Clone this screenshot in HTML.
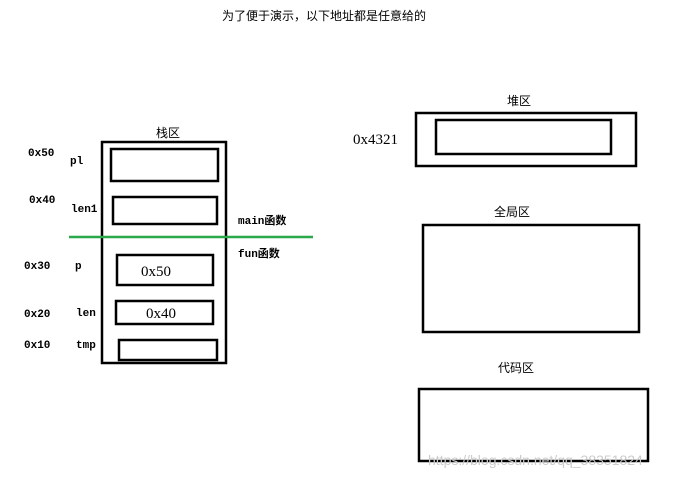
<!DOCTYPE html>
<html><head><meta charset="utf-8"><style>
html,body{margin:0;padding:0;background:#fff;width:681px;height:478px;overflow:hidden}
text{font-family:"Liberation Mono","Noto Sans CJK SC",monospace;font-size:11px;font-weight:bold;fill:#000}
.cj{font-family:"Liberation Sans","Noto Sans CJK SC",sans-serif;font-weight:normal;font-size:12px}
.sr{font-family:"Liberation Serif",serif;font-weight:normal;font-size:15px}
</style></head><body>
<svg width="681" height="478" xmlns="http://www.w3.org/2000/svg">
<g fill="none" stroke="#000" stroke-width="2.5">
<rect x="102" y="142" width="124" height="221"/>
<rect x="111" y="149" width="107" height="32"/>
<rect x="113" y="197" width="104" height="27"/>
<rect x="117" y="255" width="96" height="30"/>
<rect x="116" y="301" width="97" height="23"/>
<rect x="119" y="340" width="98" height="20"/>
<rect x="416" y="113" width="220" height="53"/>
<rect x="436" y="120" width="175" height="34"/>
<rect x="423" y="225" width="216" height="107"/>
<rect x="419" y="389" width="229" height="72"/>
</g>
<line x1="69" y1="237" x2="313" y2="237" stroke="#2aa84a" stroke-width="2.5"/>
<text class="cj" x="222" y="20">为了便于演示，以下地址都是任意给的</text>
<text class="cj" x="156" y="137">栈区</text>
<text class="cj" x="507" y="105">堆区</text>
<text class="cj" x="494" y="216">全局区</text>
<text class="cj" x="498" y="372">代码区</text>
<text x="28" y="156">0x50</text>
<text x="70" y="164">pl</text>
<text x="29" y="203">0x40</text>
<text x="71" y="212">len1</text>
<text x="24" y="269">0x30</text>
<text x="75" y="269">p</text>
<text x="24" y="317">0x20</text>
<text x="76" y="316">len</text>
<text x="24" y="348">0x10</text>
<text x="76" y="348">tmp</text>
<text x="238" y="224">main函数</text>
<text x="238" y="257">fun函数</text>
<text class="sr" x="141" y="276">0x50</text>
<text class="sr" x="146" y="318">0x40</text>
<text class="sr" x="353" y="144">0x4321</text>
<text x="428" y="465" style="font-family:'Liberation Sans',sans-serif;font-weight:normal;font-size:14px;fill:#ccc">https://blog.csdn.net/qq_38351824</text>
</svg>
</body></html>
